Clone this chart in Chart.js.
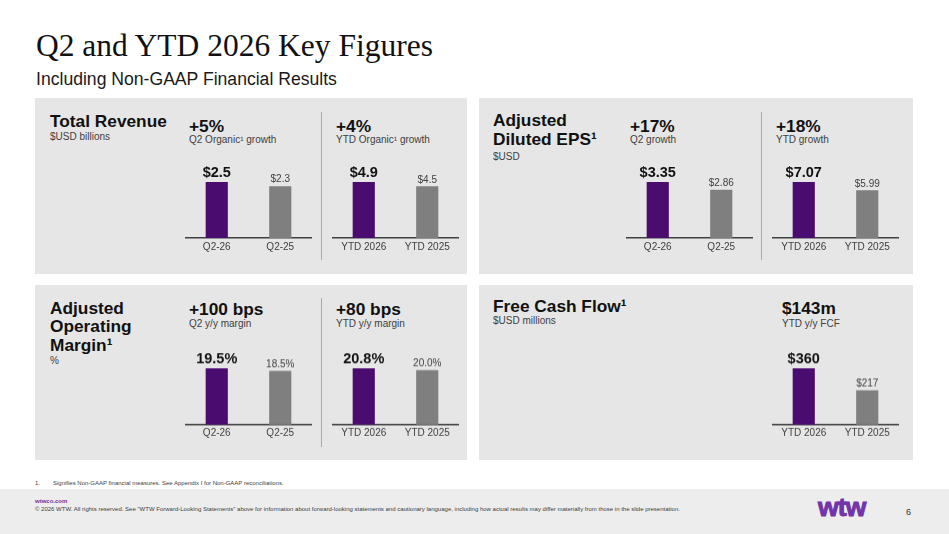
<!DOCTYPE html>
<html>
<head>
<meta charset="utf-8">
<script src="https://cdn.jsdelivr.net/npm/chart.js@4/dist/chart.umd.min.js"></script>
<style>
body{margin:0;width:949px;height:534px;position:relative;background:#fff;font-family:"Liberation Sans",Arial,sans-serif;color:#111;overflow:hidden}
.t{position:absolute;white-space:nowrap;line-height:1}
.panel{position:absolute;background:#e6e6e6}
.h{font-weight:bold;font-size:17.3px;color:#111}
.ml{line-height:18.5px}
.s{font-size:10px;color:#404040}
.vl{position:absolute;width:1px;background:#a9a9a9}
.cw{position:absolute;width:127px}
</style>
</head>
<body>
<div class="t" style="left:36px;top:30px;font-family:'Liberation Serif',serif;font-size:31.5px;color:#111">Q2 and YTD 2026 Key Figures</div>
<div class="t" style="left:36px;top:71px;font-size:17.6px;color:#1a1a1a">Including Non-GAAP Financial Results</div>

<div class="panel" style="left:35px;top:98px;width:432px;height:176px"></div>
<div class="panel" style="left:479px;top:98px;width:434px;height:176px"></div>
<div class="panel" style="left:35px;top:285px;width:432px;height:175px"></div>
<div class="panel" style="left:479px;top:285px;width:434px;height:175px"></div>

<div class="vl" style="left:321px;top:112px;height:148px"></div>
<div class="vl" style="left:761px;top:112px;height:148px"></div>
<div class="vl" style="left:321px;top:298px;height:149px"></div>

<!-- panel 1 -->
<div class="t h" style="left:50px;top:113.4px">Total Revenue</div>
<div class="t s" style="left:50px;top:131.5px">$USD billions</div>
<div class="t h" style="left:189px;top:117.7px">+5%</div>
<div class="t s" style="left:189px;top:135px">Q2 Organic¹ growth</div>
<div class="t h" style="left:336px;top:117.7px">+4%</div>
<div class="t s" style="left:336px;top:135px">YTD Organic¹ growth</div>

<!-- panel 2 -->
<div class="t h ml" style="left:493px;top:111.1px">Adjusted<br>Diluted EPS¹</div>
<div class="t s" style="left:493px;top:151.7px">$USD</div>
<div class="t h" style="left:630px;top:117.7px">+17%</div>
<div class="t s" style="left:630px;top:135px">Q2 growth</div>
<div class="t h" style="left:776px;top:117.7px">+18%</div>
<div class="t s" style="left:776px;top:135px">YTD growth</div>

<!-- panel 3 -->
<div class="t h ml" style="left:50px;top:298.8px">Adjusted<br>Operating<br>Margin¹</div>
<div class="t s" style="left:50px;top:355.7px">%</div>
<div class="t h" style="left:189px;top:301px">+100 bps</div>
<div class="t s" style="left:189px;top:319px">Q2 y/y margin</div>
<div class="t h" style="left:336px;top:301px">+80 bps</div>
<div class="t s" style="left:336px;top:319px">YTD y/y margin</div>

<!-- panel 4 -->
<div class="t h" style="left:493px;top:297.7px">Free Cash Flow¹</div>
<div class="t s" style="left:493px;top:316px">$USD millions</div>
<div class="t h" style="left:782px;top:300px">$143m</div>
<div class="t s" style="left:782px;top:319.3px">YTD y/y FCF</div>

<div class="cw" style="left:185px;top:149.7px;height:108px"><canvas id="revQ"></canvas></div>
<div class="cw" style="left:332px;top:149.7px;height:108px"><canvas id="revY"></canvas></div>
<div class="cw" style="left:626px;top:149.7px;height:108px"><canvas id="epsQ"></canvas></div>
<div class="cw" style="left:772px;top:149.7px;height:108px"><canvas id="epsY"></canvas></div>
<div class="cw" style="left:185px;top:336px;height:107.7px"><canvas id="marQ"></canvas></div>
<div class="cw" style="left:332px;top:336px;height:107.7px"><canvas id="marY"></canvas></div>
<div class="cw" style="left:772px;top:336px;height:107.7px"><canvas id="fcfY"></canvas></div>

<!-- footer -->
<div class="t" style="left:35px;top:480px;font-size:6px;color:#404040">1.</div>
<div class="t" style="left:53px;top:480px;font-size:6px;color:#404040">Signifies Non-GAAP financial measures. See Appendix I for Non-GAAP reconciliations.</div>
<div style="position:absolute;left:0;top:489px;width:949px;height:45px;background:#ededed"></div>
<div class="t" style="left:35px;top:498.3px;font-size:6px;font-weight:bold;color:#7030a0">wtwco.com</div>
<div class="t" style="left:35px;top:506px;font-size:6px;color:#404040">© 2026 WTW. All rights reserved. See "WTW Forward-Looking Statements" above for information about forward-looking statements and cautionary language, including how actual results may differ materially from those in the slide presentation.</div>
<div class="t" style="left:818px;top:494.3px;font-size:26.5px;font-weight:bold;color:#7234a8;letter-spacing:-0.8px;-webkit-text-stroke:1px #7234a8">wtw</div>
<div class="t" style="left:906px;top:507.5px;font-size:9px;color:#333">6</div>

<script>
const quarterLabels = ['Q2-26', 'Q2-25'];
const ytdLabels = ['YTD 2026', 'YTD 2025'];
const revenueQ2 = [2.5, 2.3];
const revenueYtd = [4.9, 4.5];
const epsQ2 = [3.35, 2.86];
const epsYtd = [7.07, 5.99];
const marginQ2 = [19.5, 18.5];
const marginYtd = [20.8, 20.0];
const fcfYtd = [360, 217];

const barColors = ['#4b0c6f', '#7f7f7f'];

// value labels above bars: current period bold, prior period plain
const valueLabels = {
    id: 'valueLabels',
    afterDatasetsDraw(chart, args, opts) {
        const ctx = chart.ctx;
        const values = chart.data.datasets[0].data;
        chart.getDatasetMeta(0).data.forEach((bar, i) => {
            ctx.save();
            ctx.textAlign = 'center';
            ctx.textBaseline = 'alphabetic';
            if (i === 0) {
                ctx.font = 'bold 14.5px "Liberation Sans"';
                ctx.fillStyle = '#111';
                ctx.fillText(opts.fmt(values[i]), bar.x, bar.y - 5.5);
            } else {
                ctx.font = '10px "Liberation Sans"';
                ctx.fillStyle = '#404040';
                ctx.fillText(opts.fmt(values[i]), bar.x, bar.y - 4);
            }
            ctx.restore();
        });
    }
};

function barChart(id, labels, values, fmt) {
    new Chart(document.getElementById(id), {
        type: 'bar',
        data: {
            labels: labels,
            datasets: [{
                data: values,
                backgroundColor: barColors,
                barThickness: 21.5
            }]
        },
        options: {
            responsive: true,
            maintainAspectRatio: false,
            animation: false,
            layout: { padding: { top: 32, bottom: 2, left: 0, right: 0 } },
            scales: {
                x: {
                    grid: { display: false, drawTicks: false },
                    border: { display: true, color: '#404040', width: 1.6 },
                    ticks: { padding: 3, color: '#404040', font: { family: 'Liberation Sans', size: 10 } }
                },
                y: { display: false, min: 0, max: Math.max(...values) }
            },
            plugins: {
                legend: { display: false },
                tooltip: { enabled: false },
                valueLabels: { fmt: fmt }
            }
        },
        plugins: [valueLabels]
    });
}

const usd1 = v => '$' + v.toFixed(1);
const usd2 = v => '$' + v.toFixed(2);
const pct1 = v => v.toFixed(1) + '%';
const usd0 = v => '$' + v.toFixed(0);

barChart('revQ', quarterLabels, revenueQ2, usd1);
barChart('revY', ytdLabels, revenueYtd, usd1);
barChart('epsQ', quarterLabels, epsQ2, usd2);
barChart('epsY', ytdLabels, epsYtd, usd2);
barChart('marQ', quarterLabels, marginQ2, pct1);
barChart('marY', ytdLabels, marginYtd, pct1);
barChart('fcfY', ytdLabels, fcfYtd, usd0);
</script>
</body>
</html>
